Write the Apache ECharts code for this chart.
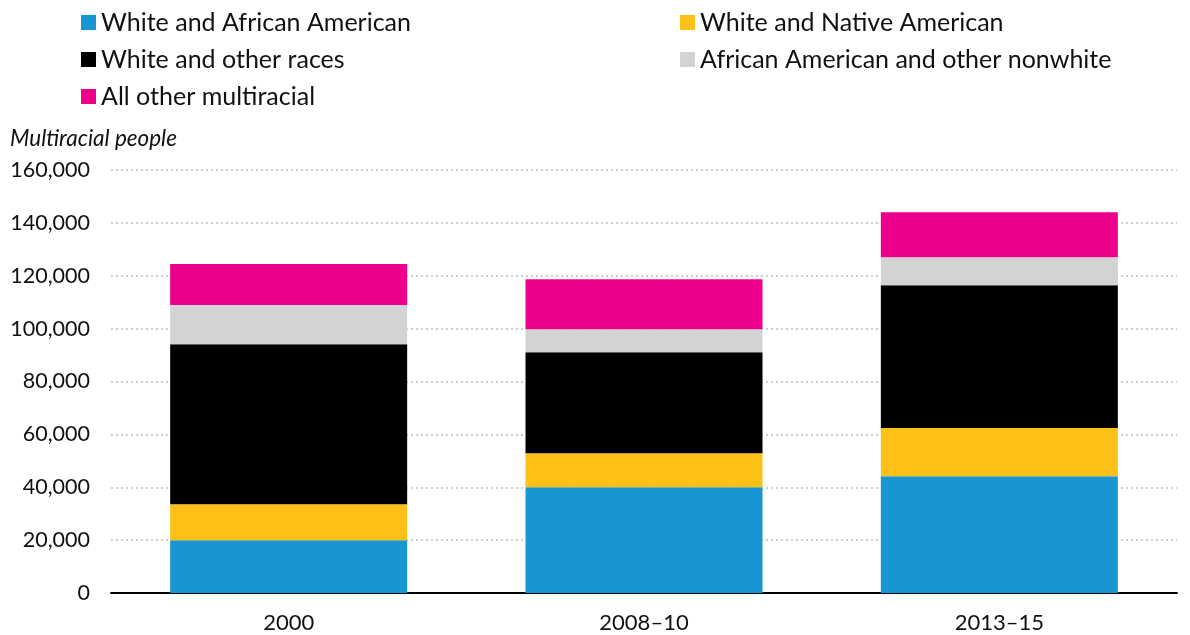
<!DOCTYPE html>
<html><head><meta charset="utf-8">
<script src="https://cdn.jsdelivr.net/npm/echarts@6/dist/echarts.min.js"></script>
<style>html,body{margin:0;padding:0;background:#fff}#c{width:1190px;height:635px}</style>
</head><body><div id="c"></div>
<script>
const categories = ['2000', '2008\u201310', '2013\u201315'];
const whiteAfricanAmerican = [20000, 40000, 44200];
const whiteNativeAmerican = [13600, 12900, 18200];
const whiteOtherRaces = [60500, 38200, 54000];
const africanAmericanOtherNonwhite = [14800, 8700, 10600];
const allOtherMultiracial = [15500, 18900, 17000];
const yTicks = [0, 20000, 40000, 60000, 80000, 100000, 120000, 140000, 160000];

const font = 'Lato, "Open Sans", sans-serif';
const names = ['White and African American','White and Native American','White and other races','African American and other nonwhite','All other multiracial'];
const colors = ['#1896d3','#fcc016','#000000','#d3d3d3','#ec008c'];
const dataArr = [whiteAfricanAmerican, whiteNativeAmerican, whiteOtherRaces, africanAmericanOtherNonwhite, allOtherMultiracial];

const legendText = {fontFamily: font, fontSize: 25, color: '#111'};
const chart = echarts.init(document.getElementById('c'));
chart.setOption({
  animation: false,
  textStyle: {fontFamily: font},
  title: {
    text: 'Multiracial people', left: 10, top: 127, padding: 0,
    textStyle: {fontFamily: font, fontStyle: 'italic', fontWeight: 'normal', fontSize: 22.5, color: '#111'}
  },
  legend: [
    {data: [names[0], names[2], names[4]], orient: 'vertical', left: 81, top: 10, itemGap: 12, padding: 0,
     itemWidth: 15, itemHeight: 15, icon: 'rect', textStyle: legendText},
    {data: [names[1], names[3]], orient: 'vertical', left: 680, top: 10, itemGap: 12, padding: 0,
     itemWidth: 15, itemHeight: 15, icon: 'rect', textStyle: legendText}
  ],
  grid: {left: 111, right: 13, top: 170, bottom: 42, containLabel: false},
  xAxis: {
    type: 'category', data: categories,
    axisLine: {lineStyle: {color: '#000', width: 2}},
    axisTick: {show: false},
    axisLabel: {fontFamily: font, fontSize: 22, color: '#111', margin: 19}
  },
  yAxis: {
    type: 'value', min: yTicks[0], max: yTicks[yTicks.length-1], interval: 20000,
    axisLine: {show: false}, axisTick: {show: false},
    axisLabel: {fontFamily: font, fontSize: 21.5, color: '#111', margin: 21,
      formatter: v => v.toLocaleString('en-US')},
    splitLine: {lineStyle: {color: '#cfcfcf', type: [2, 3], width: 2}}
  },
  series: dataArr.map((d, i) => ({
    name: names[i], type: 'bar', stack: 'total', data: d,
    barWidth: '66.7%',
    itemStyle: {color: colors[i]},
    emphasis: {disabled: true}
  }))
});
</script></body></html>
